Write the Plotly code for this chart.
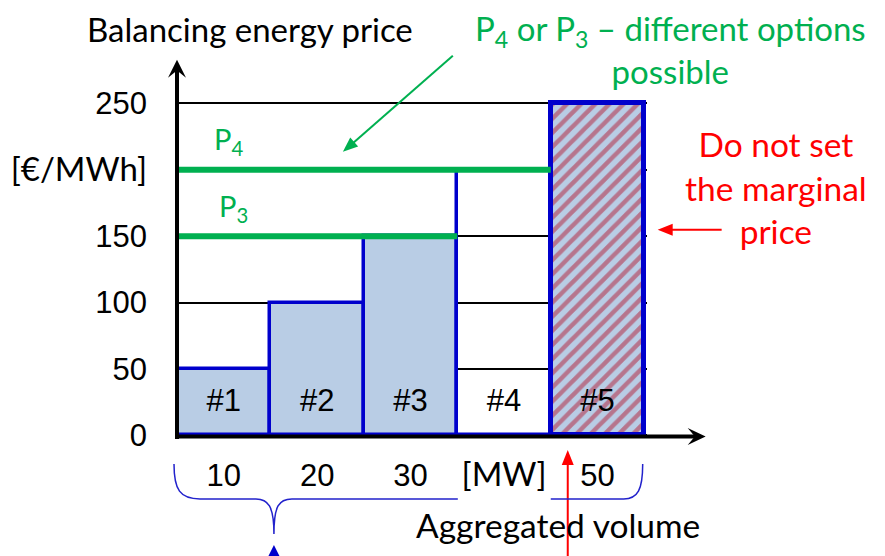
import math
import plotly.graph_objects as go

# ---------------- data ----------------
bar_labels = ["#1", "#2", "#3", "#4", "#5"]
bar_starts = [0, 10, 20, 30, 40]          # aggregated volume at left edge [MW]
bar_widths = [10, 10, 10, 10, 10]         # offered volume [MW]
bar_prices = [50, 100, 150, 200, 250]     # balancing energy price [EUR/MWh]
volume_tick_text = ["10", "20", "30",
                    '<span style="font-family:Lato;font-size:33px">[MW]</span>',
                    "50"]
price_tick_vals = [0, 50, 100, 150, 200, 250]
price_tick_text = ["0", "50", "100", "150",
                   '<span style="font-family:Lato;font-size:33px">[€/MWh]</span>',
                   "250"]
p4_price = 200
p4_volume = [0, 40]
p3_price = 150
p3_volume = [0, 30]

# ---------------- style ----------------
OFF = 8                      # page body margin of the html page
W, H = 885 - OFF, 556 - OFF  # figure size so that it fits in the window
FILL = "#B9CDE5"
BLUE = "#0000CC"
GREEN = "#00B050"
RED = "#FF0000"
STRIPE = "#B41E36"
SANS = "Lato"
NUM = "Liberation Sans"
TXT = 33

# plot area geometry (window pixels)
x_px0, x_px_per = 177.0, 9.35
y_px0, y_px_per = 435.5, 1.328
x_rng = [0, 50.3]
y_rng = [-1.2, 254]
L = x_px0 - OFF
R = W - (x_px0 - OFF + x_rng[1] * x_px_per)
T = y_px0 - OFF - y_rng[1] * y_px_per
B = H - (y_px0 - OFF - y_rng[0] * y_px_per)
PW = W - L - R
PH = H - T - B


def px(xp):
    return (xp - OFF - L) / PW


def py(yp):
    return (H - B - (yp - OFF)) / PH


centers = [s + w / 2 for s, w in zip(bar_starts, bar_widths)]

fig = go.Figure()

# bars #1-#4
fig.add_trace(go.Bar(
    x=centers[:4], y=bar_prices[:4], width=bar_widths[:4],
    marker=dict(color=[FILL, FILL, FILL, "rgba(0,0,0,0)"],
                line=dict(color=BLUE, width=3.5)),
    hoverinfo="skip", showlegend=False))

# P4 / P3 lines
fig.add_trace(go.Scatter(x=p4_volume, y=[p4_price] * 2, mode="lines",
                         line=dict(color=GREEN, width=6), showlegend=False,
                         hoverinfo="skip"))
fig.add_trace(go.Scatter(x=p3_volume, y=[p3_price] * 2, mode="lines",
                         line=dict(color=GREEN, width=6), showlegend=False,
                         hoverinfo="skip"))

# bar #5 (hatched)
fig.add_trace(go.Bar(
    x=centers[4:], y=bar_prices[4:], width=bar_widths[4:],
    marker=dict(color=FILL, line=dict(color=BLUE, width=5),
                pattern=dict(shape="/", fgcolor=STRIPE, fillmode="overlay",
                             size=10, solidity=0.45)),
    hoverinfo="skip", showlegend=False))

# bar labels
fig.add_trace(go.Scatter(x=centers, y=[24] * 5, mode="text", text=bar_labels,
                         textfont=dict(family=NUM, size=31, color="black"),
                         showlegend=False, hoverinfo="skip"))


def ptxt(xp, yp, text, color="black", size=TXT, family=SANS):
    return dict(xref="paper", yref="paper", x=px(xp), y=py(yp), text=text,
                showarrow=False, align="center",
                font=dict(family=family, size=size, color=color),
                xanchor="center", yanchor="middle")


annotations = [
    ptxt(250, 29, "Balancing energy price"),
    ptxt(671, 50, "P<sub>4</sub> or P<sub>3</sub> – different options<br>possible",
         GREEN),
    ptxt(776, 188, "Do not set<br>the marginal<br>price", RED, 33.5),
    ptxt(558, 525, "Aggregated volume", "black", 33.5),
    ptxt(229, 141, "P<sub>4</sub>", GREEN, 29),
    ptxt(234, 208, "P<sub>3</sub>", GREEN, 29),
]


def P(xp, yp):
    return f"{px(xp):.5f},{py(yp):.5f}"


def path_px(cmds):
    return " ".join(c if isinstance(c, str) else P(*c) for c in cmds)


shapes = []


def arrow(x0, y0, x1, y1, color, width, hl, hw, notch=None):
    """line from (x0,y0) to tip (x1,y1) in window pixels with a filled head"""
    dx, dy = x1 - x0, y1 - y0
    n = math.hypot(dx, dy)
    ux, uy = dx / n, dy / n
    vx, vy = -uy, ux
    bx, by = x1 - ux * hl, y1 - uy * hl
    end = hl * 0.5
    shapes.append(dict(type="line", xref="paper", yref="paper",
                       x0=px(x0), y0=py(y0),
                       x1=px(x1 - ux * end), y1=py(y1 - uy * end),
                       line=dict(color=color, width=width), layer="above"))
    pts = [(x1, y1), (bx + vx * hw / 2, by + vy * hw / 2)]
    if notch is not None:
        pts.append((x1 - ux * hl * notch, y1 - uy * hl * notch))
    pts.append((bx - vx * hw / 2, by - vy * hw / 2))
    d = "M " + " L ".join(P(*p) for p in pts) + " Z"
    shapes.append(dict(type="path", xref="paper", yref="paper", path=d,
                       fillcolor=color, line=dict(width=0), layer="above"))


# axes
arrow(177, 439, 177, 60, "black", 4, 18, 18, notch=0.6)
arrow(175, 436.5, 706, 436.5, "black", 4, 18, 17, notch=0.6)
# pointers
arrow(453, 56, 343, 152, GREEN, 2, 15, 12)
arrow(722, 230, 658, 230, RED, 2, 15, 12)
arrow(568, 570, 568, 450, RED, 2, 15, 12)

brace = path_px([
    "M", (174, 464), "C", (174, 490), (180, 499), (200, 499),
    "L", (256, 499), "C", (268, 499), (274, 506), (274, 534),
    "M", (274, 534), "C", (274, 506), (279, 499), (292, 499),
    "L", (458, 499),
    "M", (551, 499), "L", (624, 499), "C", (638, 499), (643, 490), (643, 464),
])
tri = path_px(["M", (268, 557), "L", (280, 557), "L", (274, 545), "Z"])
shapes.append(dict(type="path", xref="paper", yref="paper", path=brace,
                   line=dict(color="#2222CC", width=1.5), layer="above"))
shapes.append(dict(type="path", xref="paper", yref="paper", path=tri,
                   line=dict(width=0), fillcolor=BLUE, layer="above"))

fig.update_layout(
    width=W, height=H,
    margin=dict(l=L, r=R, t=T, b=B, pad=0, autoexpand=False),
    paper_bgcolor="white", plot_bgcolor="white",
    barmode="overlay", bargap=0,
    showlegend=False,
    annotations=annotations,
    shapes=shapes,
    xaxis=dict(range=x_rng, tickmode="array", tickvals=centers,
               ticktext=volume_tick_text, showgrid=False, zeroline=False,
               showline=False, ticks="", ticklabelstandoff=17,
               automargin=False,
               tickfont=dict(family=NUM, size=31, color="black"),
               fixedrange=True),
    yaxis=dict(range=y_rng, tickmode="array", tickvals=price_tick_vals,
               ticktext=price_tick_text, showgrid=True, gridcolor="black",
               gridwidth=1.5, zeroline=False, showline=False, ticks="",
               ticklabelstandoff=29, automargin=False,
               tickfont=dict(family=NUM, size=31, color="black"),
               fixedrange=True),
)

fig.write_html("out.html")
